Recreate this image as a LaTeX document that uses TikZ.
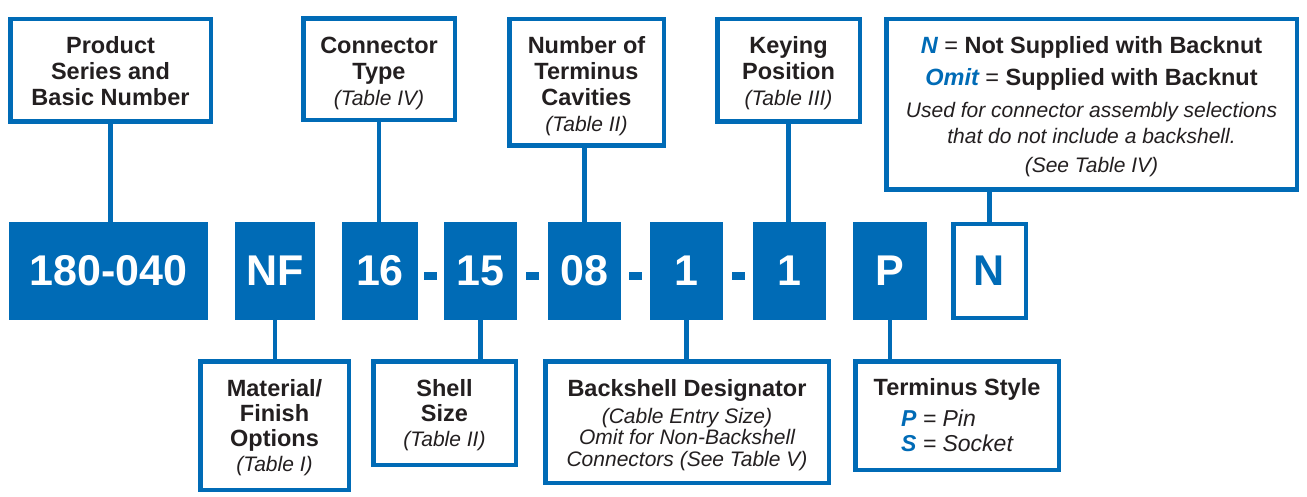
\documentclass[tikz,border=0pt]{standalone}
\usepackage{fontspec}
\setmainfont{Liberation Sans}
\usepackage{tikz}
\usetikzlibrary{positioning}
\usepackage{xcolor}
\definecolor{gblue}{RGB}{0,107,182}
\definecolor{gtext}{RGB}{35,31,32}
\tikzstyle{label} = [rectangle, draw=gblue, line width=4.5pt, fill=white, text=gtext, align=center, inner sep=0pt, font=\fontsize{23.5}{26}\selectfont\bfseries]
\tikzstyle{lowlabel} = [label, font=\fontsize{23.5}{25}\selectfont\bfseries]
\tikzstyle{code} = [rectangle, fill=gblue, text=white, inner sep=0pt, minimum height=98pt, font=\fontsize{43}{48}\selectfont\bfseries]
\tikzstyle{hyph} = [rectangle, fill=gblue, inner sep=0pt, minimum width=13pt, minimum height=8pt]
\tikzstyle{link} = [line width=4.5pt, draw=gblue]
\newcommand{\tbl}[1]{{\mdseries\itshape\fontsize{21}{26}\selectfont #1}}
\newcommand{\pad}[1]{\rule{0pt}{#1}}

\begin{document}
\begin{tikzpicture}[x=1pt, y=-1pt]
\useasboundingbox (0,0) rectangle (1307,497);

% Part number boxes
\node[code, minimum width=199pt] (b180) at (108.5,271) {180-040};
\node[code, minimum width=80pt] (bNF) at (275,271) {NF};
\node[code, minimum width=76pt] (b16) at (380,271) {16};
\node[hyph] (h1) at (430.5,276) {};
\node[code, minimum width=73pt] (b15) at (480.5,271) {15};
\node[hyph] (h2) at (532.5,276) {};
\node[code, minimum width=73pt] (b08) at (584.5,271) {08};
\node[hyph] (h3) at (635.5,276) {};
\node[code, minimum width=73pt] (b1a) at (686.5,271) {1};
\node[hyph] (h4) at (738,276) {};
\node[code, minimum width=73pt] (b1b) at (789.5,271) {1};
\node[code, minimum width=74pt] (bP) at (890,271) {P};
\node[code, fill=white, draw=gblue, line width=4.5pt, text=gblue, minimum width=72.5pt, minimum height=93.5pt] (bN) at (989.5,271) {N};

% Upper labels
\node[label, minimum width=200.5pt, minimum height=102.5pt] (prod) at (110.5,70.5) {\pad{19pt}Product\\Series and\\Basic Number};
\node[label, minimum width=151.5pt, minimum height=101.5pt] (ctype) at (379,69.5) {\pad{25pt}Connector\\Type\\\tbl{(Table IV)}};
\node[label, minimum width=154.5pt, minimum height=126.5pt] (ncav) at (586.5,82.5) {\pad{25pt}Number of\\Terminus\\Cavities\\\tbl{(Table II)}};
\node[label, minimum width=142.5pt, minimum height=102.5pt] (key) at (788.5,70.5) {\pad{23pt}Keying\\Position\\\tbl{(Table III)}};
\node[label, minimum width=410.5pt, minimum height=170.5pt] (nbox) at (1091.5,104.5) {{\pad{21pt}\textcolor{gblue}{\itshape N} {\mdseries =} Not Supplied with Backnut}\\[6pt]
  {\textcolor{gblue}{\itshape Omit} {\mdseries =} Supplied with Backnut}\\[6pt]
  \tbl{Used for connector assembly selections}\\
  \tbl{that do not include a backshell.}\\[3pt]
  \tbl{(See Table IV)}};

% Lower labels
\node[lowlabel, minimum width=148.5pt, minimum height=128.5pt] (mat) at (274.5,425.5) {\pad{21pt}Material/\\Finish\\Options\\\tbl{(Table I)}};
\node[lowlabel, minimum width=142.5pt, minimum height=103.5pt] (shell) at (444.5,413) {\pad{21pt}Shell\\Size\\\tbl{(Table II)}};
\node[lowlabel, minimum width=283.5pt, minimum height=121.5pt] (back) at (687,422) {\pad{23pt}Backshell Designator\\[2pt]
  {\mdseries\itshape\fontsize{21}{21.5}\selectfont (Cable Entry Size)}\\[-3.5pt]
  {\mdseries\itshape\fontsize{21}{21.5}\selectfont Omit for Non-Backshell}\\[-3pt]
  {\mdseries\itshape\fontsize{21}{21.5}\selectfont Connectors (See Table V)}};
\node[lowlabel, minimum width=203.5pt, minimum height=108.5pt] (term) at (957,415.5) {\pad{23pt}Terminus Style\\[6pt]
  {\mdseries\itshape\fontsize{23}{25}\selectfont\begin{tabular}[t]{@{}l@{}}\textcolor{gblue}{\bfseries P} = Pin\\ \textcolor{gblue}{\bfseries S} = Socket\end{tabular}}};

% Connections
\draw[link] (prod.south) -- (prod.south |- b180.north);
\draw[link] (ctype.south) -- (ctype.south |- b16.north);
\draw[link] (b08.north) -- (b08.north |- ncav.south);
\draw[link] (key.south) -- (key.south |- b1b.north);
\draw[link] (bN.north) -- (bN.north |- nbox.south);
\draw[link] (bNF.south) -- (bNF.south |- mat.north);
\draw[link] (b15.south) -- (b15.south |- shell.north);
\draw[link] (b1a.south) -- (b1a.south |- back.north);
\draw[link] (bP.south) -- (bP.south |- term.north);
\end{tikzpicture}
\end{document}
